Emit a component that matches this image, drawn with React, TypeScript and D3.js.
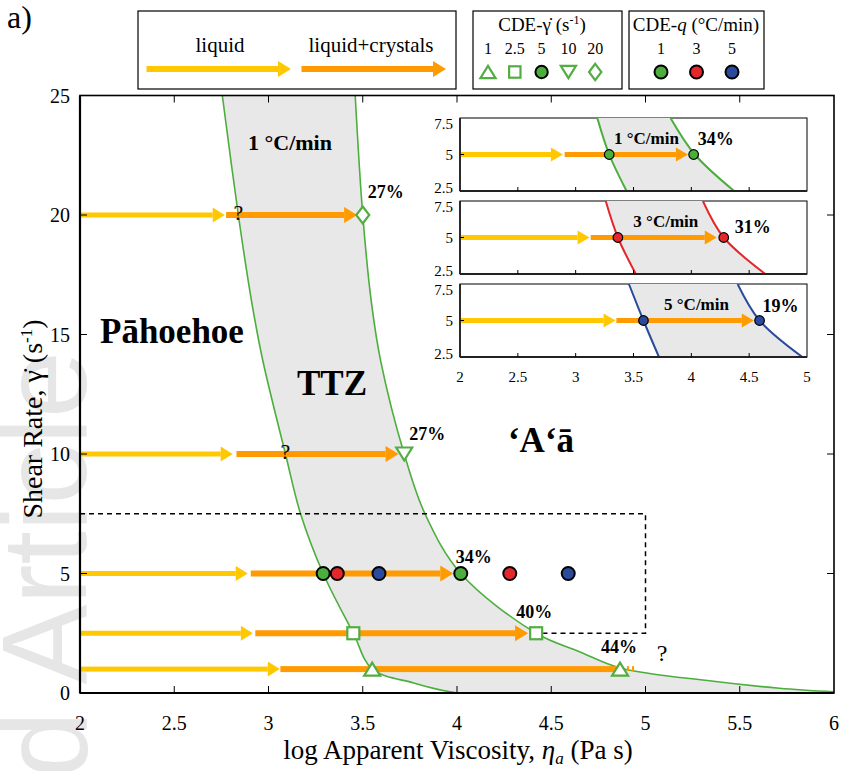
import * as d3 from 'd3';

// main plot: shear-rate experiments
const mainRates = [20, 10, 5, 2.5, 1];
const liquidTip = [2.768, 2.81, 2.89, 2.917, 3.06];
const crystalFrom = [2.775, 2.83, 2.906, 2.93, 3.063];
const crystalTip = [3.47, 3.69, 3.98, 4.377, 4.865];
const cdeShape = ['diamond', 'triangleDown', 'circle', 'square', 'triangleUp'];
const onsetVisc = [2.84, 3.09, 3.29, 3.45, 3.55];
const onsetKnown = [false, false, true, true, true];
const cdeVisc = [3.5, 3.72, 4.02, 4.42, 4.865];
const cdeCrystals = ['27%', '27%', '34%', '40%', '44%'];

// cooling-rate experiments (at 5 s-1)
const coolingRates = [1, 3, 5];
const coolingColors = ['#4cae3c', '#e5262b', '#2a4b9b'];
const coolingOnset = [3.29, 3.365, 3.586];
const coolingCde = [4.02, 4.28, 4.59];
const coolingCrystals = ['34%', '31%', '19%'];
const insetLiquidTip = [2.89, 3.12, 3.345];
const insetCrystalFrom = [2.905, 3.13, 3.352];
const insetCrystalTip = [3.97, 4.22, 4.54];

// TTZ boundaries [log viscosity, shear rate]
const ttzLeft: [number, number][] = [[2.755, 25], [2.84, 20], [2.91, 16.4], [2.97, 13.9], [3.09, 10], [3.17, 7.5], [3.29, 5], [3.45, 2.5], [3.55, 1], [3.77, 0.42], [3.91, 0.13], [4.0, 0]];
const ttzRight: [number, number][] = [[3.46, 25], [3.5, 20], [3.545, 16.4], [3.595, 13.9], [3.72, 10], [3.83, 7.5], [4.02, 5], [4.42, 2.5], [4.65, 1.73], [4.865, 1.05], [5.35, 0.5], [5.71, 0.2], [6.0, 0.05]];
const insetLeft: [number, number][][] = [
    [[3.187, 7.5], [3.29, 5], [3.44, 2.5]],
    [[3.26, 7.5], [3.365, 5], [3.52, 2.5]],
    [[3.46, 7.5], [3.586, 5], [3.72, 2.5]],
];
const insetRight: [number, number][][] = [
    [[3.82, 7.5], [4.03, 5], [4.37, 2.5]],
    [[4.1, 7.5], [4.28, 5], [4.64, 2.5]],
    [[4.4, 7.5], [4.59, 5], [4.96, 2.5]],
];

const xTicks = [2, 2.5, 3, 3.5, 4, 4.5, 5, 5.5, 6];
const yTicks = [0, 5, 10, 15, 20, 25];
const insetXTicks = [2, 2.5, 3, 3.5, 4, 4.5, 5];
const insetYTicks = [2.5, 5, 7.5];
const legendShearRates = ['1', '2.5', '5', '10', '20'];
const legendShapes = ['triangleUp', 'square', 'circle', 'triangleDown', 'diamond'];

const W = 844, H = 771;
const SERIF = "'Liberation Serif', 'Times New Roman', serif";
const YELLOW = '#ffc800';
const ORANGE = '#ff9a00';
const GREEN = '#4cae3c';
const MARK_GREEN = '#52ad42';
const SHADE = '#e8e8e8';

function Arrow({ x0, x1, y, color, sw = 6, hl = 13, hw = 8 }: any) {
    return (
        <g>
            <rect x={x0} y={y - sw / 2} width={Math.max(0, x1 - hl - x0)} height={sw} fill={color} />
            <polygon points={`${x1 - hl},${y - hw} ${x1},${y} ${x1 - hl},${y + hw}`} fill={color} />
        </g>
    );
}

function Marker({ shape, cx, cy, s = 1, fill = '#fff', stroke = MARK_GREEN, sw = 2.2 }: any) {
    if (shape === 'circle') {
        return <circle cx={cx} cy={cy} r={6.5 * s} fill={fill} stroke="#000" strokeWidth={2} />;
    }
    if (shape === 'square') {
        const a = 6 * s;
        return <rect x={cx - a} y={cy - a} width={2 * a} height={2 * a} fill={fill} stroke={stroke} strokeWidth={sw} />;
    }
    if (shape === 'diamond') {
        const w = 6.5 * s, h = 8.5 * s;
        return <polygon points={`${cx},${cy - h} ${cx + w},${cy} ${cx},${cy + h} ${cx - w},${cy}`} fill={fill} stroke={stroke} strokeWidth={sw} />;
    }
    const w = 8 * s, h = 6.5 * s;
    if (shape === 'triangleUp') {
        return <polygon points={`${cx},${cy - h} ${cx + w},${cy + h} ${cx - w},${cy + h}`} fill={fill} stroke={stroke} strokeWidth={sw} />;
    }
    return <polygon points={`${cx},${cy + h} ${cx + w},${cy - h} ${cx - w},${cy - h}`} fill={fill} stroke={stroke} strokeWidth={sw} />;
}

export default function App() {
    const x = d3.scaleLinear().domain([2, 6]).range([80, 834]);
    const y = d3.scaleLinear().domain([0, 25]).range([693, 95.5]);

    const line = d3.line<[number, number]>()
        .x(d => x(d[0]))
        .y(d => y(d[1]))
        .curve(d3.curveCatmullRom);
    const leftD = line(ttzLeft) || '';
    const rightD = line(ttzRight) || '';
    const rightRev = (line([...ttzRight].reverse()) || '').replace(/^M/, 'L');
    const shadeD = `${leftD}L${x(6)},${y(0)}${rightRev}Z`;

    // inset geometry
    const ix = d3.scaleLinear().domain([2, 5]).range([460, 807]);
    const panelTop = [118, 201, 284];
    const panelH = 73;

    const dashD = `M${x(2)},${y(7.5)}L${x(5)},${y(7.5)}L${x(5)},${y(2.5)}L${x(cdeVisc[3]) + 7},${y(2.5)}`;

    const pctOffset = [[5, -17], [5, -14], [-5, -11], [-20, -15], [-19, -16]];
    const insetPctDx = [4, 11, 3];
    const insetPctDy = [-10, -5, -8.5];

    return (
        <svg width={W} height={H} style={{ display: 'block', position: 'absolute', left: 0, top: 0 }} fontFamily={SERIF}>
            <defs>
                <clipPath id="plotClip">
                    <rect x={x(2)} y={y(25)} width={x(6) - x(2)} height={y(0) - y(25)} />
                </clipPath>
                {panelTop.map((t, i) => (
                    <clipPath id={`insetClip${i}`} key={i}>
                        <rect x={ix(2)} y={t} width={ix(5) - ix(2)} height={panelH} />
                    </clipPath>
                ))}
            </defs>
            <rect width={W} height={H} fill="#fff" />

            {/* watermark */}
            <text transform="translate(86,778) rotate(-90)" fontFamily="'Liberation Sans', Arial, sans-serif"
                fontSize={120} fill="#e6e6e6">d Article</text>

            <text x={7} y={28} fontSize={32}>a)</text>

            {/* TTZ shading and boundaries */}
            <g clipPath="url(#plotClip)">
                <path d={shadeD} fill={SHADE} />
                <path d={leftD} fill="none" stroke={GREEN} strokeWidth={1.6} />
                <path d={rightD} fill="none" stroke={GREEN} strokeWidth={1.6} />
            </g>

            <path d={dashD} fill="none" stroke="#000" strokeWidth={1.5} strokeDasharray="5,4" />

            {/* region names */}
            <text x={x(2) + 20} y={343} fontSize={35} fontWeight="bold">Pāhoehoe</text>
            <text x={332} y={395} fontSize={35} fontWeight="bold" textAnchor="middle">TTZ</text>
            <text x={541} y={452} fontSize={35} fontWeight="bold" textAnchor="middle">‘A‘ā</text>
            <text x={290} y={150} fontSize={22} fontWeight="bold" textAnchor="middle">1 °C/min</text>

            {/* shear-rate arrows */}
            {mainRates.map((r, i) => (
                <g key={r}>
                    <Arrow x0={x(2)} x1={x(liquidTip[i])} y={y(r)} color={YELLOW} sw={5} hl={12} hw={7.5} />
                    {i === mainRates.length - 1 ? (
                        <g>
                            <rect x={x(crystalFrom[i])} y={y(r) - 3} width={x(crystalTip[i]) - x(crystalFrom[i])} height={6} fill={ORANGE} />
                            <rect x={x(crystalTip[i]) + 7} y={y(r) - 3} width={2} height={5} fill={ORANGE} />
                            <rect x={x(crystalTip[i]) + 12} y={y(r) - 3} width={2} height={5} fill={ORANGE} />
                        </g>
                    ) : (
                        <Arrow x0={x(crystalFrom[i])} x1={x(crystalTip[i])} y={y(r)} color={ORANGE} sw={6} hl={13} hw={8} />
                    )}
                </g>
            ))}

            {/* onset markers / question marks */}
            {mainRates.map((r, i) => onsetKnown[i] ? (
                cdeShape[i] === 'circle' ? null :
                    <Marker key={`on${r}`} shape={cdeShape[i]} cx={x(onsetVisc[i])} cy={y(r)} />
            ) : (
                <text key={`q${r}`} x={x(onsetVisc[i])} y={y(r) + 5} fontSize={22} textAnchor="middle">?</text>
            ))}
            {/* cooling rate circles at 5 s-1 */}
            {coolingRates.map((c, i) => (
                <Marker key={`co${c}`} shape="circle" cx={x(coolingOnset[i])} cy={y(5)} fill={coolingColors[i]} />
            ))}
            {coolingRates.map((c, i) => (
                <Marker key={`cc${c}`} shape="circle" cx={x(coolingCde[i])} cy={y(5)} fill={coolingColors[i]} />
            ))}
            {mainRates.map((r, i) => cdeShape[i] === 'circle' ? null : (
                <Marker key={`cde${r}`} shape={cdeShape[i]} cx={x(cdeVisc[i])} cy={y(r)} />
            ))}
            {mainRates.map((r, i) => (
                <text key={`p${r}`} x={x(cdeVisc[i]) + pctOffset[i][0]} y={y(r) + pctOffset[i][1]}
                    fontSize={18} fontWeight="bold">{cdeCrystals[i]}</text>
            ))}
            <text x={x(cdeVisc[4]) + 42} y={y(1) - 8} fontSize={24} textAnchor="middle">?</text>

            {/* inset panels */}
            {coolingRates.map((c, i) => {
                const t = panelTop[i];
                const iy = d3.scaleLinear().domain([2.5, 7.5]).range([t + panelH, t]);
                const il = d3.line<[number, number]>().x(d => ix(d[0])).y(d => iy(d[1])).curve(d3.curveCatmullRom);
                const lD = il(insetLeft[i]) || '';
                const rD = il(insetRight[i]) || '';
                const rRev = (il([...insetRight[i]].reverse()) || '').replace(/^M/, 'L');
                const areaD = `${lD}${rRev}Z`;
                const mid = (ix(coolingOnset[i]) + ix(coolingCde[i])) / 2 - 5;
                return (
                    <g key={`panel${c}`}>
                        <rect x={ix(2)} y={t} width={ix(5) - ix(2)} height={panelH} fill="#fff" stroke="#000" strokeWidth={1} />
                        <g clipPath={`url(#insetClip${i})`}>
                            <path d={areaD} fill={SHADE} />
                            <path d={lD} fill="none" stroke={coolingColors[i]} strokeWidth={2} />
                            <path d={rD} fill="none" stroke={coolingColors[i]} strokeWidth={2} />
                        </g>
                        <Arrow x0={ix(2)} x1={ix(insetLiquidTip[i])} y={iy(5)} color={YELLOW} sw={5} hl={12} hw={7} />
                        <Arrow x0={ix(insetCrystalFrom[i])} x1={ix(insetCrystalTip[i])} y={iy(5)} color={ORANGE} sw={5} hl={12} hw={7} />
                        <circle cx={ix(coolingOnset[i])} cy={iy(5)} r={4.8} fill={coolingColors[i]} stroke="#000" strokeWidth={1.2} />
                        <circle cx={ix(coolingCde[i])} cy={iy(5)} r={4.8} fill={coolingColors[i]} stroke="#000" strokeWidth={1.2} />
                        <text x={mid} y={iy(5) - 11} fontSize={17} fontWeight="bold" textAnchor="middle">{c} °C/min</text>
                        <text x={ix(coolingCde[i]) + insetPctDx[i]} y={iy(5) + insetPctDy[i]} fontSize={18} fontWeight="bold">{coolingCrystals[i]}</text>
                        <line x1={ix(2)} x2={ix(5)} y1={t + panelH} y2={t + panelH} stroke="#222" strokeWidth={1.8} />
                        <line x1={ix(2)} x2={ix(2)} y1={t} y2={t + panelH} stroke="#222" strokeWidth={1.8} />
                        {insetXTicks.slice(1, -1).map(v => (
                            <line key={v} x1={ix(v)} x2={ix(v)} y1={t + panelH} y2={t + panelH - 4} stroke="#000" strokeWidth={1} />
                        ))}
                        <line x1={ix(2)} x2={ix(2) + 4} y1={iy(5)} y2={iy(5)} stroke="#000" strokeWidth={1} />
                        {insetYTicks.map(v => (
                            <text key={v} x={ix(2) - 7} y={iy(v)} dy={v === 7.5 ? 11 : v === 2.5 ? 1.5 : 5}
                                fontSize={15} textAnchor="end">{v}</text>
                        ))}
                    </g>
                );
            })}
            {insetXTicks.map(v => (
                <text key={`ixt${v}`} x={ix(v)} y={382} fontSize={15} textAnchor="middle">{v}</text>
            ))}

            {/* main axes */}
            <rect x={x(2)} y={y(25)} width={x(6) - x(2)} height={y(0) - y(25)} fill="none" stroke="#000" strokeWidth={1.6} />
            <line x1={x(2)} x2={x(6)} y1={y(0)} y2={y(0)} stroke="#000" strokeWidth={2.2} />
            <line x1={x(2)} x2={x(2)} y1={y(0)} y2={y(25)} stroke="#000" strokeWidth={2.2} />
            {xTicks.slice(1, -1).map(v => (
                <g key={`xt${v}`}>
                    <line x1={x(v)} x2={x(v)} y1={y(0)} y2={y(0) - 7} stroke="#000" strokeWidth={1} />
                    <line x1={x(v)} x2={x(v)} y1={y(25)} y2={y(25) + 7} stroke="#000" strokeWidth={1} />
                </g>
            ))}
            {yTicks.slice(1, -1).map(v => (
                <g key={`yt${v}`}>
                    <line x1={x(2)} x2={x(2) + 7} y1={y(v)} y2={y(v)} stroke="#000" strokeWidth={1} />
                    <line x1={x(6)} x2={x(6) - 7} y1={y(v)} y2={y(v)} stroke="#000" strokeWidth={1} />
                </g>
            ))}
            {xTicks.map(v => (
                <text key={`xl${v}`} x={x(v)} y={730} fontSize={20} textAnchor="middle">{v}</text>
            ))}
            {yTicks.map(v => (
                <text key={`yl${v}`} x={70} y={y(v) + 7} fontSize={20} textAnchor="end">{v}</text>
            ))}
            <text x={458} y={759} fontSize={27} textAnchor="middle">
                log Apparent Viscosity, <tspan fontStyle="italic">η</tspan>
                <tspan fontStyle="italic" fontSize={17} dy={5}>a</tspan>
                <tspan dy={-5}> (Pa s)</tspan>
            </text>
            <text transform="translate(42,419) rotate(-90)" fontSize={28} textAnchor="middle">
                Shear Rate, {'\u03B3\u0307'} (s<tspan fontSize={17} dy={-10}>-1</tspan><tspan dy={10}>)</tspan>
            </text>

            {/* legends */}
            <rect x={138} y={11} width={318} height={78} fill="#fff" stroke="#000" strokeWidth={1.2} />
            <text x={220} y={52} fontSize={21} textAnchor="middle">liquid</text>
            <text x={371} y={52} fontSize={21} textAnchor="middle">liquid+crystals</text>
            <Arrow x0={146.5} x1={291} y={69} color={YELLOW} sw={6} hl={13} hw={8} />
            <Arrow x0={301.5} x1={446} y={69} color={ORANGE} sw={6} hl={13} hw={8} />

            <rect x={473} y={11} width={149} height={78} fill="#fff" stroke="#000" strokeWidth={1.2} />
            <text x={542} y={31} fontSize={19} textAnchor="middle">
                CDE-{'\u03B3\u0307'} (s<tspan fontSize={12} dy={-7}>-1</tspan><tspan dy={7}>)</tspan>
            </text>
            {legendShearRates.map((s, i) => {
                const lx = 488 + i * 26.8;
                return (
                    <g key={`ls${s}`}>
                        <text x={lx} y={54} fontSize={16} textAnchor="middle">{s}</text>
                        <Marker shape={legendShapes[i]} cx={lx} cy={72} s={0.95}
                            fill={legendShapes[i] === 'circle' ? GREEN : '#fff'} />
                    </g>
                );
            })}

            <rect x={629} y={11} width={135} height={78} fill="#fff" stroke="#000" strokeWidth={1.2} />
            <text x={696} y={31} fontSize={19} textAnchor="middle">
                CDE-<tspan fontStyle="italic">q</tspan> (°C/min)
            </text>
            {coolingRates.map((c, i) => {
                const lx = 661 + i * 35.5;
                return (
                    <g key={`lc${c}`}>
                        <text x={lx} y={54} fontSize={16} textAnchor="middle">{c}</text>
                        <Marker shape="circle" cx={lx} cy={72} fill={coolingColors[i]} />
                    </g>
                );
            })}
        </svg>
    );
}
